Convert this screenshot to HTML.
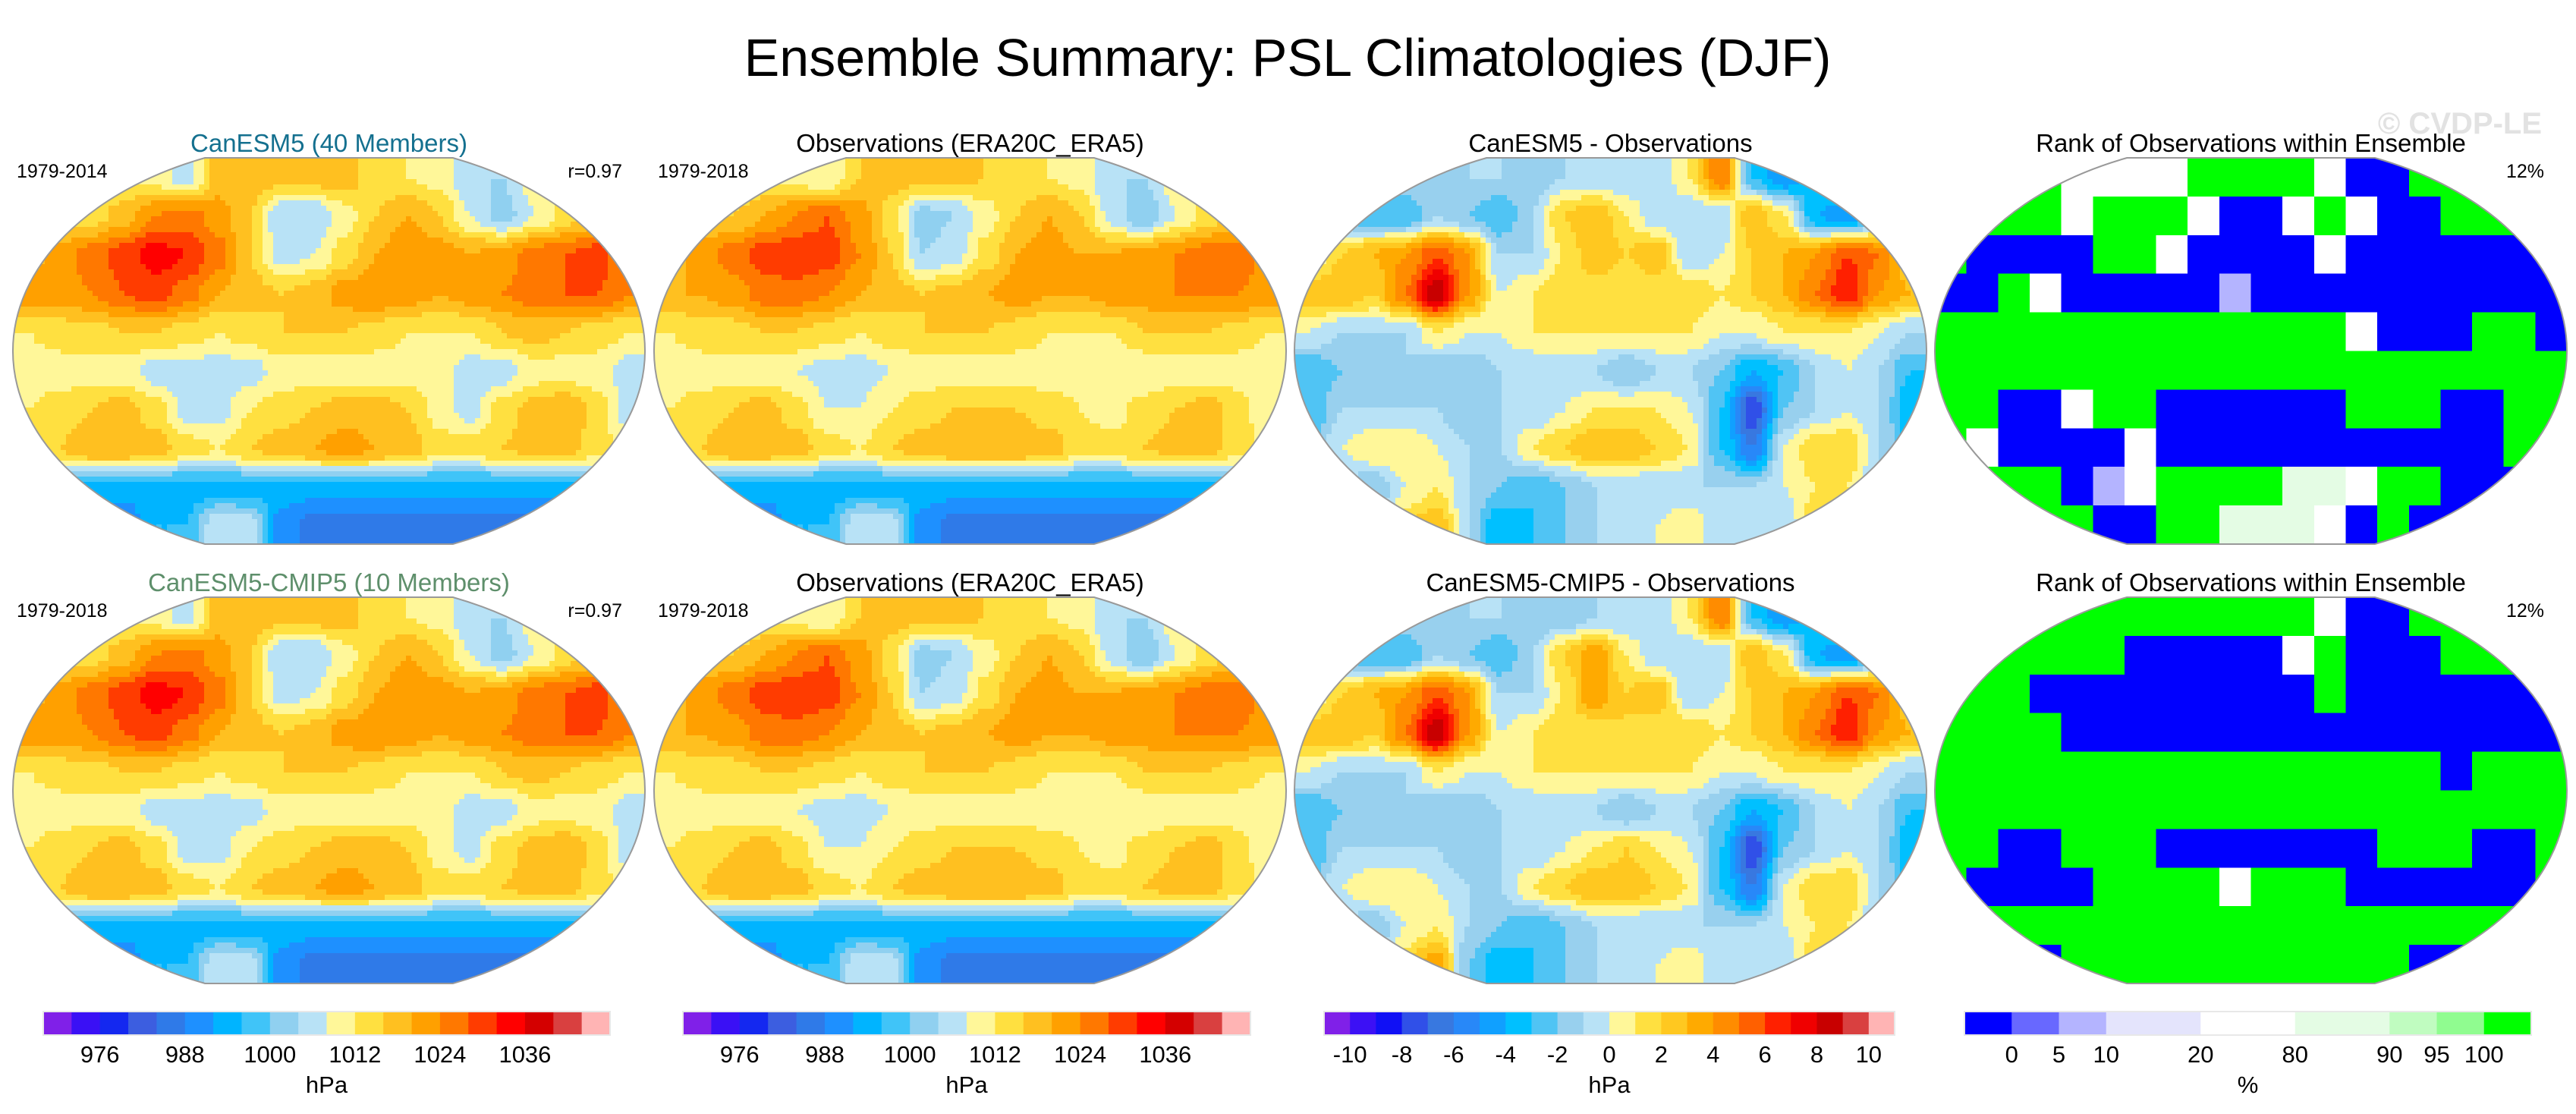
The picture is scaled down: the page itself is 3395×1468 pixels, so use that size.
<!DOCTYPE html>
<html><head><meta charset="utf-8"><title>Ensemble Summary: PSL Climatologies (DJF)</title>
<style>html,body{margin:0;padding:0;background:#fff;}svg{display:block;font-family:"Liberation Sans",sans-serif;}</style>
</head><body>
<svg id="fig" xmlns="http://www.w3.org/2000/svg" width="3395" height="1468" viewBox="0 0 3395 1468">
<defs></defs>
<text x="1697" y="100" font-size="70" text-anchor="middle" fill="#000">Ensemble Summary: PSL Climatologies (DJF)</text>
<text x="3350" y="176" font-size="40" font-weight="bold" text-anchor="end" fill="#e2e2e2">© CVDP-LE</text>
<g id="panels"></g>
<g id="bars"></g>
</svg>
<script>
// ---------- data ----------
const pslModel = [
[1010,1010,1010,1012,1010,1006,1018,1018,1018,1018,1018,1014,1012,1010,1004,1004,1010,1010,1012,1012],
[1014,1014,1014,1018,1024,1026,1022,1016,1004,1004,1010,1016,1020,1016,1008,1002,1008,1014,1018,1018],
[1018,1022,1026,1030,1034,1032,1026,1016,1006,1008,1014,1020,1024,1022,1020,1022,1026,1028,1030,1024],
[1022,1022,1024,1028,1030,1026,1020,1018,1016,1018,1022,1024,1022,1020,1022,1024,1026,1028,1028,1024],
[1012,1014,1014,1016,1016,1014,1012,1014,1016,1016,1016,1014,1012,1012,1012,1016,1018,1016,1014,1012],
[1010,1010,1010,1010,1006,1006,1006,1006,1010,1010,1010,1010,1010,1010,1006,1006,1010,1010,1010,1006],
[1012,1014,1016,1018,1014,1006,1006,1012,1014,1016,1018,1018,1016,1010,1006,1014,1018,1020,1014,1006],
[1014,1016,1020,1020,1018,1014,1012,1016,1018,1020,1022,1020,1018,1014,1014,1016,1018,1018,1014,1010],
[998,996,994,994,994,994,994,994,994,994,994,994,994,994,994,994,994,994,996,998],
[990,988,988,988,996,996,1008,1006,990,986,986,986,986,986,986,986,986,986,988,990]
];
const pslObs = [
[1010,1010,1010,1012,1010,1008,1016,1018,1018,1018,1016,1014,1012,1010,1004,1004,1010,1010,1012,1012],
[1014,1016,1016,1020,1024,1028,1022,1014,1002,1004,1010,1016,1020,1016,1006,1000,1008,1014,1018,1018],
[1018,1022,1026,1030,1032,1030,1024,1016,1004,1006,1014,1020,1022,1020,1020,1022,1024,1026,1026,1022],
[1020,1020,1022,1026,1026,1024,1020,1018,1016,1018,1020,1022,1020,1020,1022,1022,1024,1024,1024,1022],
[1012,1014,1014,1016,1016,1014,1012,1014,1016,1016,1016,1014,1012,1012,1012,1016,1016,1016,1014,1012],
[1010,1010,1010,1010,1008,1006,1006,1008,1010,1010,1010,1010,1010,1010,1008,1008,1010,1010,1010,1008],
[1012,1014,1016,1018,1014,1008,1008,1012,1014,1016,1016,1016,1014,1012,1010,1014,1016,1018,1014,1008],
[1014,1016,1020,1020,1018,1014,1012,1016,1018,1020,1020,1020,1018,1014,1014,1016,1018,1018,1014,1010],
[998,996,994,994,994,994,994,994,994,994,994,994,994,994,994,994,994,994,996,998],
[990,988,988,988,996,996,1008,1006,990,986,986,986,986,986,986,986,986,986,988,990]
];
const diffA = [
[-2,-2,-1,-1,-2,-1,-1,-2,-1,-1,-1,-1,1,5,-3,-5,-3,-1,-1,-1],
[-2,-2,-3,-3,-1,-2,-3,-1,2,3,1,-1,-1,-1,3,1,-4,-5,-2,-1],
[0,2,3,4,6,4,-1,-1,1,3,2,3,-1,0,2,3,4,6,5,2],
[3,3,2,5,9,4,0,1,2,1,1,1,2,1,2,3,5,7,4,3],
[0,-1,-1,-1,1,0,0,1,1,1,1,1,1,0,0,1,1,1,0,-1],
[-3,-2,-2,-1,-2,-2,-1,-1,-1,-1,-2,-1,-1,-2,-4,-3,-1,0,-1,-3],
[-3,-1,-1,-1,-1,-2,-1,-1,0,1,1,1,0,-3,-8,-2,-1,0,-1,-4],
[-2,0,1,1,0,-1,-1,1,2,3,3,2,1,-3,-6,0,2,2,-1,-3],
[-1,-1,-2,0,1,-1,-2,-3,-2,-1,-1,-1,-1,-1,-1,0,1,1,-1,-1],
[-1,-1,-2,2,3,-1,-4,-3,-2,-1,-1,0,1,-1,-1,-1,2,4,1,-1]
];
const diffB = [
[-2,-2,-1,-1,-2,-1,-1,-2,-2,-1,-1,-1,1,5,-3,-5,-3,-1,-1,-1],
[-2,-2,-3,-3,-1,-2,-3,-1,2,4,1,-1,-1,-1,3,1,-4,-5,-2,-1],
[0,2,3,4,6,4,-1,-1,1,4,2,3,-1,0,2,3,4,6,5,2],
[3,3,2,5,9,4,0,1,2,1,2,1,2,1,2,3,5,7,4,3],
[0,-1,-1,-1,1,0,0,1,1,1,1,1,1,0,0,1,1,1,0,-1],
[-3,-2,-2,-1,-2,-2,-1,-1,-1,-1,-2,-1,-1,-2,-4,-3,-1,0,-1,-3],
[-3,-1,-1,-1,-1,-2,-1,-1,0,1,2,1,0,-3,-8,-2,-1,0,-1,-4],
[-2,0,1,1,0,-1,-1,1,2,3,3,2,1,-3,-6,0,2,2,-1,-3],
[-1,-1,-2,0,1,-1,-2,-3,-2,-1,-1,-1,-1,-1,-1,0,1,1,-1,-1],
[-1,-1,-2,2,4,-2,-4,-3,-2,-1,-1,0,1,-1,-1,-1,2,4,1,-1]
];
const rankA = [
[100,100,100,100,80,80,80,80,100,100,100,100,50,0,0,100,100,100,100,100],
[100,100,100,100,50,100,100,100,50,0,0,50,100,50,0,0,100,100,100,100],
[100,0,0,0,0,100,100,50,0,0,0,0,50,0,0,0,0,0,0,0],
[0,0,100,50,0,0,0,0,0,10,0,0,0,0,0,0,0,0,0,0],
[100,100,100,100,100,100,100,100,100,100,100,100,100,50,0,0,0,100,100,0],
[100,100,100,100,100,100,100,100,100,100,100,100,100,100,100,100,100,100,100,100],
[100,100,0,0,50,100,100,0,0,0,0,0,0,100,100,100,0,0,100,100],
[100,50,0,0,0,0,50,0,0,0,0,0,0,0,0,0,0,0,100,100],
[100,100,100,100,0,10,50,100,100,100,100,85,85,50,100,100,0,0,0,100],
[100,100,100,100,100,0,0,100,100,85,85,85,50,0,100,0,0,0,100,100]
];
const rankB = [
[100,100,100,100,100,100,100,100,100,100,100,100,50,0,0,100,100,100,100,100],
[100,100,100,100,100,100,0,0,0,0,0,50,100,0,0,0,100,100,100,100],
[100,100,100,0,0,0,0,0,0,0,0,0,100,0,0,0,0,0,0,0],
[100,100,100,100,0,0,0,0,0,0,0,0,0,0,0,0,0,0,0,0],
[100,100,100,100,100,100,100,100,100,100,100,100,100,100,100,100,0,100,100,100],
[100,100,100,100,100,100,100,100,100,100,100,100,100,100,100,100,100,100,100,100],
[100,100,0,0,100,100,100,0,0,0,0,0,0,0,100,100,100,0,0,100],
[100,0,0,0,0,100,100,100,100,50,100,100,100,0,0,0,0,0,0,100],
[100,100,100,100,100,100,100,100,100,100,100,100,100,100,100,100,100,100,100,100],
[100,100,0,0,100,100,100,100,100,100,100,100,100,100,100,0,0,0,100,100]
];
const pslColors = ["#8020e8","#3a10f5","#1428f0","#3c5ee0","#2f7ae8","#1e90ff","#00b4ff","#40c4f8","#90d0f0","#b8e2f6","#fff799","#ffe040","#ffc020","#ffa000","#ff7800","#ff3c00","#ff0000","#d40000","#d94040","#ffb4b4"];
const pslTicks = ["976","988","1000","1012","1024","1036"];
const pslTickIdx = [2,5,8,11,14,17];
const diffColors = ["#8020e8","#3c10f5","#1010f5","#3050e8","#3878e0","#2888f8","#10a0ff","#00c0ff","#50c4f4","#98d0ee","#b8e2f6","#fff799","#ffe040","#ffc820","#ffaa00","#ff8c00","#ff6000","#ff2000","#f00000","#c80000","#d94040","#ffb4b4"];
const diffTicks = ["-10","-8","-6","-4","-2","0","2","4","6","8","10"];
const diffTickIdx = [1,3,5,7,9,11,13,15,17,19,21];
const rankColors = ["#0000ff","#6868ff","#b4b4ff","#e4e4fc","#ffffff","#e4fce4","#c0fcc0","#90fc90","#00ff00"];
const rankBounds = [0,5,10,20,80,90,95,100];
const rankTicks = ["0","5","10","20","80","90","95","100"];

// ---------- helpers ----------
const NS = "http://www.w3.org/2000/svg";
const svg = document.getElementById("fig");
const defs = svg.querySelector("defs");
const panelsG = document.getElementById("panels");
const barsG = document.getElementById("bars");
function mk(tag, parent){ const e = document.createElementNS(NS, tag); parent.appendChild(e); return e; }
function pslColor(v){ let b = v<972?0:(v>=1044?19:Math.floor((v-968)/4)); return pslColors[b]; }
function diffColor(v){ let b = v<-10?0:(v>=10?21:Math.floor(v+11)); return diffColors[b]; }
function rankColor(v){ let i=0; while(i<rankBounds.length && v>rankBounds[i]) i++; if(v>=100) i=8; return rankColors[i]; }
function sm(t){ return t*t*(3-2*t); }
function sample(data, fx, fy){
  const R = data.length, C = data[0].length;
  let gx = Math.min(Math.max(fx*C-0.5,0),C-1), gy = Math.min(Math.max(fy*R-0.5,0),R-1);
  const x0 = Math.floor(gx), y0 = Math.floor(gy), x1 = Math.min(x0+1,C-1), y1 = Math.min(y0+1,R-1);
  const tx = sm(gx-x0), ty = sm(gy-y0);
  const a = data[y0][x0]*(1-tx)+data[y0][x1]*tx, b = data[y1][x0]*(1-tx)+data[y1][x1]*tx;
  return a*(1-ty)+b*ty;
}

const colX = [17,862,1706,2550];
const rowY = [208,787];
const MW = 833, MH = 509;
const panels = [
 {row:0,col:0,data:pslModel,fn:pslColor,smooth:true,title:"CanESM5 (40 Members)",tcol:"#14708f",left:"1979-2014",right:"r=0.97",name:"canesm5"},
 {row:0,col:1,data:pslObs,fn:pslColor,smooth:true,title:"Observations (ERA20C_ERA5)",tcol:"#000",left:"1979-2018",right:"",name:"observations"},
 {row:0,col:2,data:diffA,fn:diffColor,smooth:true,title:"CanESM5 - Observations",tcol:"#000",left:"",right:"",name:"canesm5-minus-obs"},
 {row:0,col:3,data:rankA,fn:rankColor,smooth:false,title:"Rank of Observations within Ensemble",tcol:"#000",left:"",right:"12%",name:"rank-canesm5"},
 {row:1,col:0,data:pslModel,fn:pslColor,smooth:true,title:"CanESM5-CMIP5 (10 Members)",tcol:"#5e8f6b",left:"1979-2018",right:"r=0.97",name:"canesm5-cmip5"},
 {row:1,col:1,data:pslObs,fn:pslColor,smooth:true,title:"Observations (ERA20C_ERA5)",tcol:"#000",left:"1979-2018",right:"",name:"observations-2"},
 {row:1,col:2,data:diffB,fn:diffColor,smooth:true,title:"CanESM5-CMIP5 - Observations",tcol:"#000",left:"",right:"",name:"canesm5-cmip5-minus-obs"},
 {row:1,col:3,data:rankB,fn:rankColor,smooth:false,title:"Rank of Observations within Ensemble",tcol:"#000",left:"",right:"12%",name:"rank-canesm5-cmip5"}
];

panels.forEach((p,pi)=>{
  const x0 = colX[p.col], y0 = rowY[p.row];
  const cx = x0+MW/2, rx = MW/2, ry = (MH/2)/0.92, hw = 0.196*MW;
  const d = `M${cx-hw},${y0} L${cx+hw},${y0} A${rx},${ry} 0 0 1 ${cx+hw},${y0+MH} L${cx-hw},${y0+MH} A${rx},${ry} 0 0 1 ${cx-hw},${y0} Z`;
  const cp = mk("clipPath", defs); cp.setAttribute("id","clip"+pi);
  const cpp = mk("path", cp); cpp.setAttribute("d", d);
  const g = mk("g", panelsG);
  
  
  const t = mk("text", g);
  
  
  t.setAttribute("x", cx); t.setAttribute("y", y0-8); t.setAttribute("font-size","33");
  t.setAttribute("text-anchor","middle"); t.setAttribute("fill", p.tcol); t.textContent = p.title;
  if(p.left){ const l = mk("text", g);
    
    
    l.setAttribute("x", x0+5); l.setAttribute("y", y0+26); l.setAttribute("font-size","25"); l.textContent = p.left; }
  if(p.right){ const r = mk("text", g);
    
    
    r.setAttribute("x", x0+MW-30); r.setAttribute("y", y0+26); r.setAttribute("font-size","25"); r.setAttribute("text-anchor","end"); r.textContent = p.right; }
  const clipG = mk("g", g); clipG.setAttribute("clip-path", `url(#clip${pi})`);
  const field = mk("g", clipG);
  
  
  field.setAttribute("shape-rendering","crispEdges");
  const R = p.data.length, C = p.data[0].length;
  if(p.smooth){
    const step = 7, nx = Math.ceil(MW/step), ny = Math.ceil(MH/step);
    for(let j=0;j<ny;j++){
      let runStart = 0, runCol = null;
      for(let i=0;i<=nx;i++){
        const col = i<nx ? p.fn(sample(p.data,(i+0.5)/nx,(j+0.5)/ny)) : null;
        if(col!==runCol){
          if(runCol!==null){
            const cell = mk("rect", field);
            
            
            cell.setAttribute("x",(x0+runStart*step).toFixed(1)); cell.setAttribute("y",(y0+j*step).toFixed(1));
            cell.setAttribute("width",((i-runStart)*step+0.5).toFixed(1)); cell.setAttribute("height",step+0.5);
            cell.setAttribute("fill", runCol);
          }
          runStart = i; runCol = col;
        }
      }
    }
  } else {
    const cw = MW/C, ch = MH/R;
    p.data.forEach((rowArr,r)=>{ rowArr.forEach((v,c)=>{
      const cell = mk("rect", field);
      
      
      cell.setAttribute("x",(x0+c*cw).toFixed(1)); cell.setAttribute("y",(y0+r*ch).toFixed(1));
      cell.setAttribute("width",(cw+0.6).toFixed(1)); cell.setAttribute("height",(ch+0.6).toFixed(1));
      cell.setAttribute("fill", p.fn(v));
    });});
  }
  const outline = mk("path", g);
  
  
  outline.setAttribute("d", d); outline.setAttribute("fill","none"); outline.setAttribute("stroke","#999"); outline.setAttribute("stroke-width","2");
});

// ---------- colorbars ----------
function drawBar(name, x0, x1, colors, widths, tickPos, ticks, unit){
  const g = mk("g", barsG);
  
  
  const total = widths.reduce((a,b)=>a+b,0), sc = (x1-x0)/total;
  let acc = x0; const bx = [x0];
  colors.forEach((col,i)=>{ const w = widths[i]*sc;
    const r = mk("rect", g);
    
    
    r.setAttribute("x",acc); r.setAttribute("y",1333); r.setAttribute("width",w+0.5); r.setAttribute("height",31); r.setAttribute("fill",col);
    acc += w; bx.push(acc); });
  const fr = mk("rect", g); fr.setAttribute("x",x0); fr.setAttribute("y",1333); fr.setAttribute("width",x1-x0); fr.setAttribute("height",31); fr.setAttribute("fill","none"); fr.setAttribute("stroke","#e8e8e8"); fr.setAttribute("stroke-width","2");
  ticks.forEach((tk,i)=>{ const t = mk("text", g);
    
    
    t.setAttribute("x", bx[tickPos[i]]); t.setAttribute("y", 1400); t.setAttribute("font-size","31"); t.setAttribute("text-anchor","middle"); t.textContent = tk; });
  const u = mk("text", g);
  
  
  u.setAttribute("x", (x0+x1)/2); u.setAttribute("y", 1440); u.setAttribute("font-size","31"); u.setAttribute("text-anchor","middle"); u.textContent = unit;
}
drawBar("colorbar-psl-model", 57, 804, pslColors, pslColors.map(()=>1), pslTickIdx, pslTicks, "hPa");
drawBar("colorbar-psl-obs", 900, 1648, pslColors, pslColors.map(()=>1), pslTickIdx, pslTicks, "hPa");
drawBar("colorbar-difference", 1745, 2497, diffColors, diffColors.map(()=>1), diffTickIdx, diffTicks, "hPa");
drawBar("colorbar-rank", 2589, 3336, rankColors, [1,1,1,2,2,2,1,1,1], [1,2,3,4,5,6,7,8], rankTicks, "%");
</script>
</body></html>
